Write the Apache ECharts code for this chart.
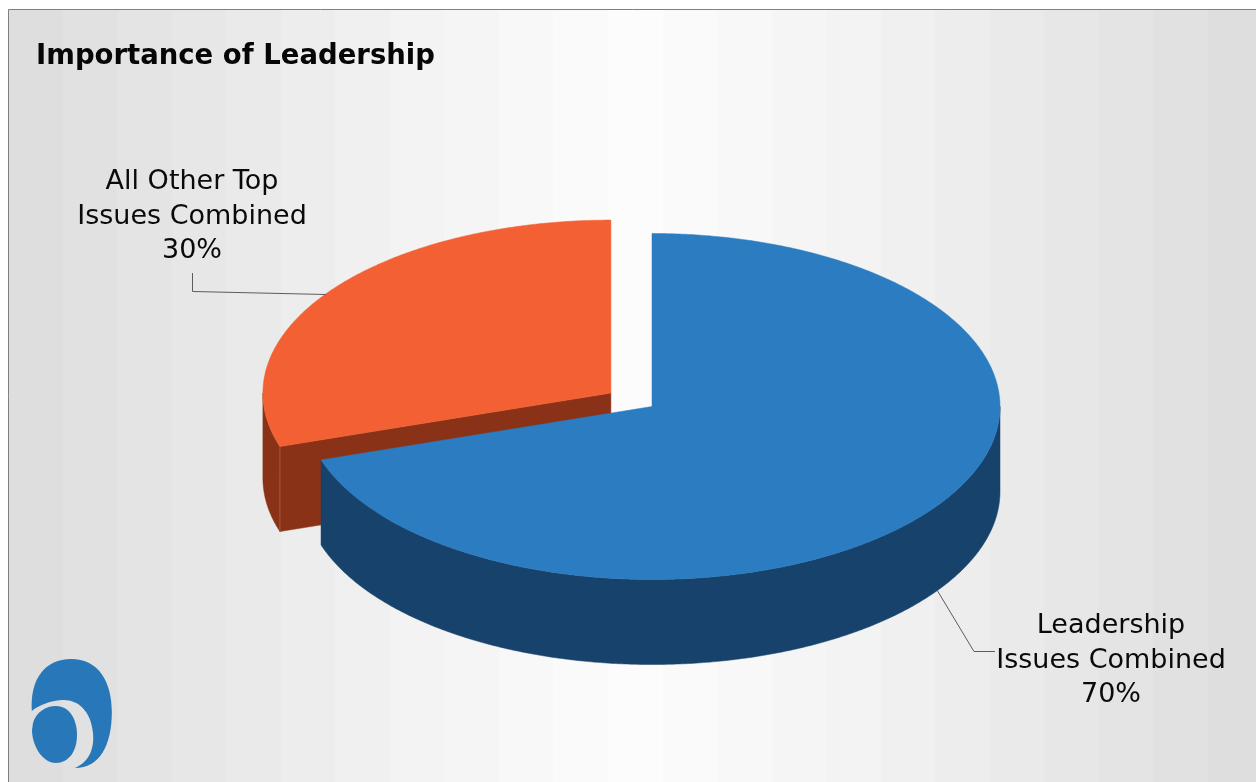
<!DOCTYPE html>
<html>
<head>
<meta charset="utf-8">
<style>html,body{margin:0;padding:0;background:#fff}#chart{width:1256px;height:782px}</style>
<script src="https://cdn.jsdelivr.net/npm/echarts@6/dist/echarts.min.js"></script>
</head>
<body>
<div id="chart"></div>
<script>
// Share of top issues, clockwise from twelve o'clock.
const categories = ['Leadership\nIssues Combined', 'All Other Top\nIssues Combined'];
const shares = [70, 30];
const percentLabels = ['70%', '30%'];
const chartTitle = 'Importance of Leadership';

// Projection of the tilted disc and the slice styling.
const disc = { cx: 652, cy: 406.5, rx: 348, ry: 173, depth: 85 };
const explodeX = [0, 0.146];
const explodeY = [0, 0.132];
const topColors = ['#2b7cc1', '#f26033'];
const sideColors = ['#17426b', '#8a3217'];
const labelCenters = [[1111, 660.5], [192, 216.5]];
const leaders = [
  [[937, 590], [974, 651.5], [995, 651.5]],
  [[192.5, 273], [192.5, 291.5], [326, 294.5]]
];

const total = shares.reduce((a, b) => a + b, 0);
const rad = d => d * Math.PI / 180;

function sliceAngles(i) {
  let start = 0;
  for (let k = 0; k < i; k++) start += shares[k] / total * 360;
  return [start, start + shares[i] / total * 360];
}

function centerOf(i) {
  const [a, b] = sliceAngles(i);
  const mid = rad((a + b) / 2);
  return [
    disc.cx + disc.rx * explodeX[i] * Math.sin(mid),
    disc.cy - disc.ry * explodeY[i] * Math.cos(mid)
  ];
}

function rim(c, deg, drop) {
  return [
    c[0] + disc.rx * Math.sin(rad(deg)),
    c[1] - disc.ry * Math.cos(rad(deg)) + (drop || 0)
  ];
}

function arcPoints(c, from, to, drop) {
  const pts = [];
  const n = Math.max(2, Math.ceil(Math.abs(to - from) * 2));
  for (let k = 0; k <= n; k++) pts.push(rim(c, from + (to - from) * k / n, drop));
  return pts;
}

function renderSlice(params, api) {
  const i = api.value(0);
  const [a, b] = sliceAngles(i);
  const c = centerOf(i);
  const children = [];
  const poly = (points, fill) => children.push({
    type: 'polygon',
    shape: { points },
    style: { fill, stroke: fill, lineWidth: 0.5 }
  });

  // Only the front half of the outer wall faces the viewer.
  const from = Math.max(a, 90);
  const to = Math.min(b, 270);
  if (to > from) {
    poly(arcPoints(c, from, to).concat(arcPoints(c, to, from, disc.depth)), sideColors[i]);
  }

  // The cut face along the slice's leading edge, when it faces front.
  const edge = rim(c, a);
  if (a > 180 && a < 360) {
    poly([c, edge, [edge[0], edge[1] + disc.depth], [c[0], c[1] + disc.depth]], sideColors[i]);
    children.push({
      type: 'line',
      shape: { x1: edge[0], y1: edge[1], x2: edge[0], y2: edge[1] + disc.depth },
      style: { stroke: '#a4583c', lineWidth: 1 }
    });
  }

  poly([c].concat(arcPoints(c, a, b)), topColors[i]);
  return { type: 'group', children };
}

function renderCallout(params, api) {
  const i = api.value(0);
  const [x, y] = labelCenters[i];
  const lines = categories[i].split('\n').concat(percentLabels[i]);
  return {
    type: 'group',
    children: [{
      type: 'polyline',
      shape: { points: leaders[i] },
      style: { stroke: '#5c5c5c', lineWidth: 1, fill: null }
    }, {
      type: 'text',
      style: {
        text: lines.join('\n'),
        x, y,
        align: 'center',
        verticalAlign: 'middle',
        fontFamily: 'DejaVu Sans',
        fontSize: 27,
        lineHeight: 34.5,
        fill: '#0a0a0a'
      }
    }]
  };
}

// Company mark in the lower left corner: a crescent around an egg shape.
function renderMark() {
  return {
    type: 'group',
    children: [
      {
        type: 'path',
        shape: {
          pathData: 'M32,711 C30,678 46,659 71,659 C99,659 112,682 112,712 C112,745 100,768 75,768 C90,762 95,747 93,732 C91,711 78,699 62,700 C50,701 39,705 32,711 Z',
          x: 31.5, y: 659, width: 80.5, height: 109
        },
        style: { fill: '#2877b8' }
      },
      {
        type: 'path',
        shape: {
          pathData: 'M33,723 C36,712 46,706 56,706 C70,706 77,720 77,735 C77,752 68,763 56,763 C42,763 32,745 32,730 Z',
          x: 32, y: 706, width: 45, height: 57
        },
        style: { fill: '#2877b8' }
      }
    ]
  };
}

// Panel shading: stepped bands, light in the middle and grey at both sides.
const panel = { left: 8.5, top: 9.5, right: 1262, bottom: 790 };
function bandStops() {
  const stops = [];
  const bands = 23;
  for (let k = 0; k < bands; k++) {
    const t = (k + 0.5) / bands;
    const tone = Math.round(252 - 32 * Math.pow(Math.abs(t - 0.5) * 2, 1.15));
    const color = 'rgb(' + tone + ',' + tone + ',' + tone + ')';
    stops.push({ offset: k / bands, color }, { offset: (k + 1) / bands, color });
  }
  return stops;
}

const chart = echarts.init(document.getElementById('chart'));
chart.setOption({
  animation: false,
  backgroundColor: '#ffffff',
  title: {
    text: chartTitle,
    left: 31,
    top: 38,
    textStyle: { fontFamily: 'DejaVu Sans', fontWeight: 'bold', fontSize: 27.5, color: '#060606' }
  },
  graphic: [
    {
      type: 'rect',
      z: -10,
      shape: { x: panel.left, y: panel.top, width: panel.right - panel.left, height: panel.bottom - panel.top },
      style: {
        fill: { type: 'linear', x: 0, y: 0, x2: 1, y2: 0, colorStops: bandStops() },
        stroke: '#808080',
        lineWidth: 1
      }
    }
  ],
  series: [
    {
      type: 'custom',
      coordinateSystem: 'none',
      silent: true,
      clip: false,
      renderItem: renderSlice,
      // Back slice first so the front slice paints over its cut face.
      data: shares.map((v, i) => [i, v]).reverse()
    },
    {
      type: 'custom',
      coordinateSystem: 'none',
      silent: true,
      clip: false,
      renderItem: renderCallout,
      z: 3,
      data: shares.map((v, i) => [i, v])
    },
    {
      type: 'custom',
      coordinateSystem: 'none',
      silent: true,
      clip: false,
      renderItem: renderMark,
      z: 3,
      data: [[0]]
    }
  ]
});
</script>
</body>
</html>
